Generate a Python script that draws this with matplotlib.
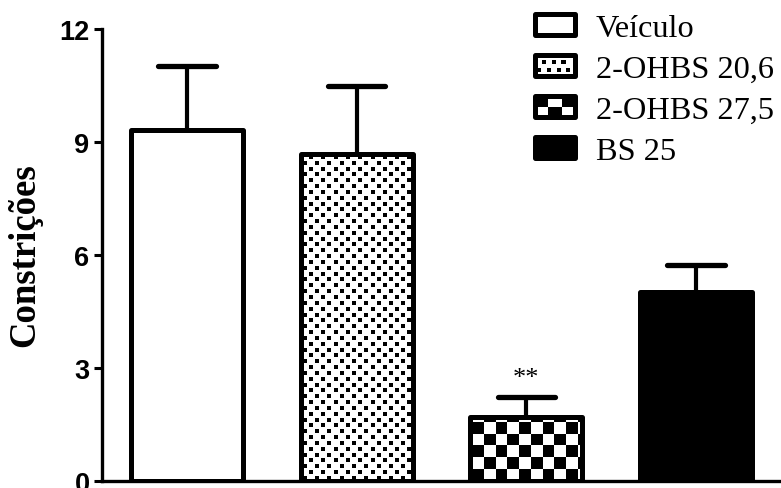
import numpy as np
import matplotlib
matplotlib.use('Agg')
import matplotlib.pyplot as plt
from matplotlib.patches import Rectangle
from matplotlib.legend_handler import HandlerBase

# data
groups = ['Veículo', '2-OHBS 20,6', '2-OHBS 27,5', 'BS 25']
means = [9.33, 8.68, 1.70, 5.02]
sems = [1.68, 1.81, 0.52, 0.71]
yticks = [0, 3, 6, 9, 12]
fills = ['white', 'dots', 'checker', 'black']

lw_bar = 3.6
barw = 0.66

fig = plt.figure(figsize=(7.81, 4.89), dpi=100)
ax = fig.add_axes([102/781, 7/489, 679/781, 452/489])
x = np.arange(len(groups))

for i in range(len(groups)):
    face = 'black' if fills[i] == 'black' else 'white'
    b = ax.bar(x[i], means[i], barw, color=face, edgecolor='none', zorder=1)[0]
    x0 = x[i] - barw/2
    if fills[i] == 'dots':
        # staggered dot texture (about 12 px x 6 px)
        dx, dy = 0.0725, 0.155
        rows = np.arange(0, means[i] + dy, dy)
        px, py = [], []
        for k, yy in enumerate(rows):
            off = 0 if k % 2 == 0 else dx/2
            xs = np.arange(x0 + off + 0.025, x0 + barw, dx)
            px += list(xs)
            py += [yy + 0.08] * len(xs)
        sc = ax.scatter(px, py, s=5.2, marker='s', color='black', linewidths=0, zorder=2)
        sc.set_clip_path(b)
    elif fills[i] == 'checker':
        cw, ch = 0.069, 0.31
        nc = int(np.ceil(barw / cw)) + 1
        nr = int(np.ceil(means[i] / ch)) + 1
        board = (np.indices((nr, nc)).sum(axis=0) % 2).astype(float)
        im = ax.imshow(board, cmap='gray', interpolation='nearest', aspect='auto',
                       origin='lower', extent=(x0 + 0.01, x0 + 0.01 + nc*cw, 0, nr*ch), zorder=2)
        im.set_clip_path(b)
    ax.bar(x[i], means[i], barw, fill=False, edgecolor='black', linewidth=lw_bar,
           joinstyle='round', zorder=3)

# error bars (upper only)
tops = np.array(means) + np.array(sems)
ax.vlines(x, means, tops, color='black', linewidth=3.0, zorder=2.5)
ax.hlines(tops, x - 0.17, x + 0.17, color='black', linewidth=3.8, capstyle='round', zorder=2.5)

ax.text(x[2], 2.45, '**', ha='center', va='bottom', fontsize=19, family='Liberation Serif')

ax.set_xlim(-0.5, 3.5)
ax.set_ylim(0, 12)
ax.set_yticks(yticks)
ax.set_yticklabels([str(t) for t in yticks], fontsize=19.5, fontweight='bold', family='Liberation Sans')
ax.set_xticks([])
ax.tick_params(axis='y', length=6, width=2.2, pad=3)
for s in ['top', 'right']:
    ax.spines[s].set_visible(False)
for s in ['left', 'bottom']:
    ax.spines[s].set_linewidth(2.4)

fig.text(25/781, 0.478, 'Constrições', rotation=90, ha='center', va='center',
         fontsize=26.5, fontweight='bold', family='Liberation Serif')


class TextureHandler(HandlerBase):
    def __init__(self, kind):
        super().__init__()
        self.kind = kind

    def create_artists(self, legend, orig_handle, xdescent, ydescent, width, height, fontsize, trans):
        x0, y0 = -xdescent, -ydescent
        arts = []
        face = 'black' if self.kind == 'black' else 'white'
        arts.append(Rectangle((x0, y0), width, height, facecolor=face, edgecolor='none', transform=trans))
        if self.kind == 'checker':
            nc, nr = 3, 2
            for r in range(nr):
                for c in range(nc):
                    if (r + c) % 2 == 1:
                        arts.append(Rectangle((x0 + c*width/nc, y0 + r*height/nr), width/nc, height/nr,
                                              facecolor='black', edgecolor='none', transform=trans))
        elif self.kind == 'dots':
            for r in range(2):
                off = 0 if r % 2 == 0 else 3.5
                for c in np.arange(3 + off, width - 2, 7):
                    arts.append(Rectangle((x0 + c - 1.5, y0 + 4.5 + r*5.5 - 1.5), 3, 3,
                                          facecolor='black', edgecolor='none', transform=trans))
        arts.append(Rectangle((x0, y0), width, height, facecolor='none', edgecolor='black',
                              linewidth=lw_bar, joinstyle='round', transform=trans))
        return arts


handles = [Rectangle((0, 0), 1, 1, label=g) for g in groups]
leg = fig.legend(handles, groups, loc='upper left', bbox_to_anchor=(535/781, 1 - 15/489),
                 frameon=False, borderpad=0, borderaxespad=0,
                 prop={'family': 'Liberation Serif', 'size': 23.3},
                 handlelength=1.25, handleheight=0.6, handletextpad=0.62, labelspacing=0.37,
                 handler_map={h: TextureHandler(k) for h, k in zip(handles, fills)})

fig.savefig('out.png', dpi=100)
